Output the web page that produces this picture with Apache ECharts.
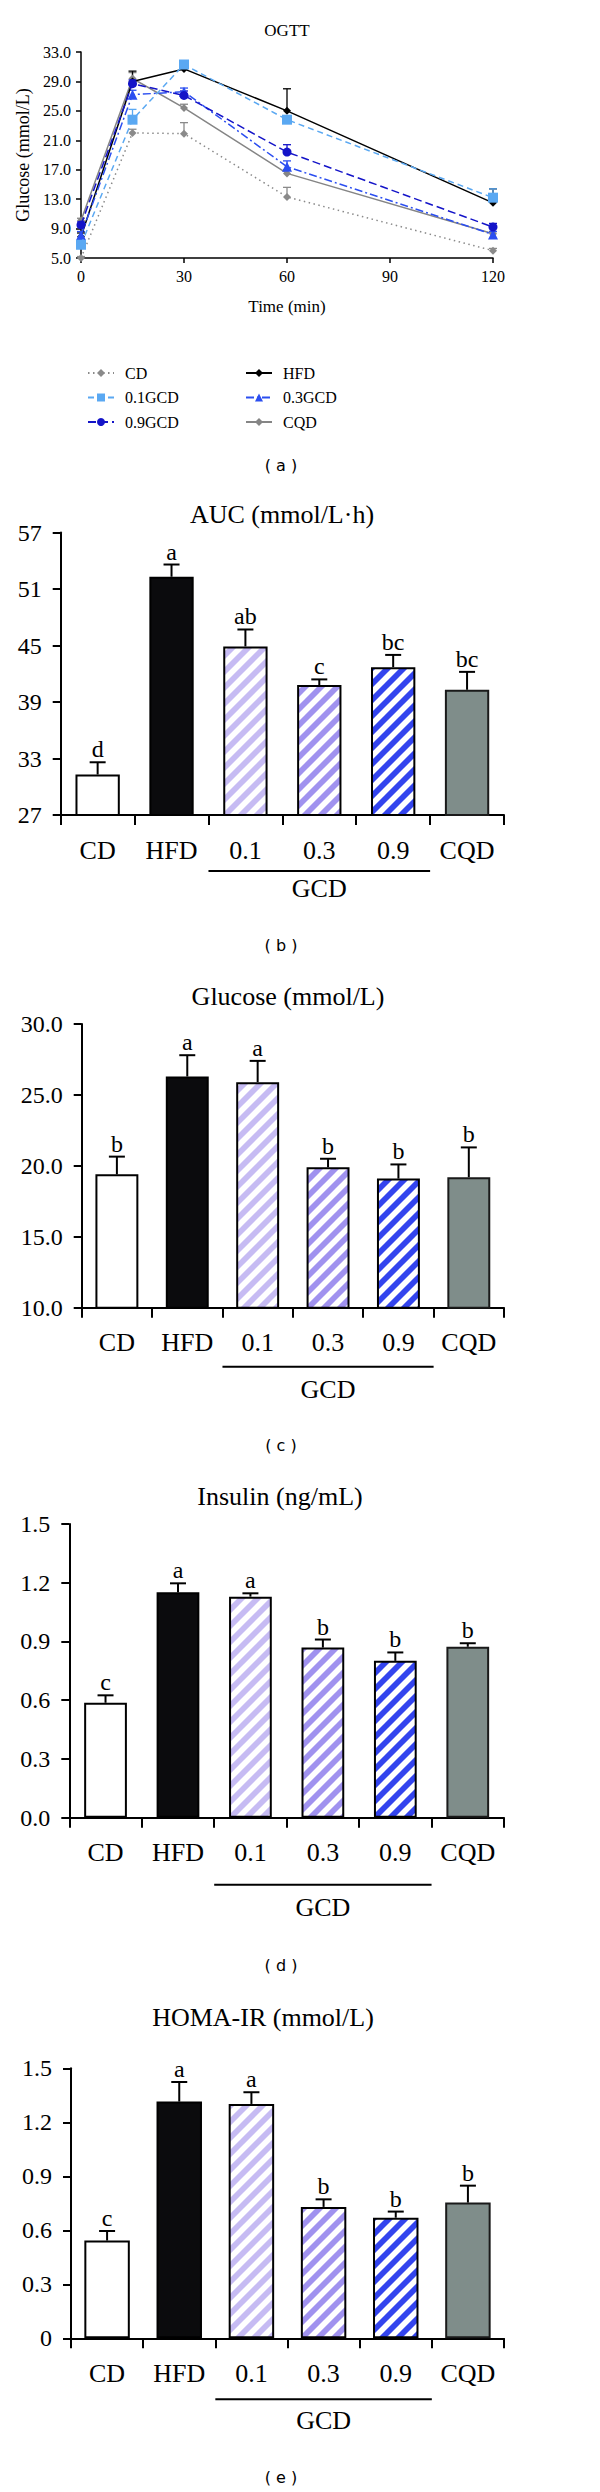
<!DOCTYPE html>
<html><head><meta charset="utf-8">
<script src="https://cdn.jsdelivr.net/npm/echarts@6/dist/echarts.min.js"></script>
<style>html,body{margin:0;padding:0;background:#fff}#c{width:600px;height:2492px}</style>
</head><body><div id="c"></div><script>
const SERIF = '"Liberation Serif","Times New Roman",serif';
const SANS = '"DejaVu Sans",sans-serif';

// ---------- OGTT (a) ----------
const ogttTimes = [0, 15, 30, 60, 120];
const ogttXTicks = [0, 30, 60, 90, 120];
const ogttYTicks = [5, 9, 13, 17, 21, 25, 29, 33];
const ogttCD = [5.0, 22.0, 21.9, 13.3, 6.0];
const ogttCD_se = [0.2, 0.5, 1.5, 1.3, 0.3];
const ogttHFD = [7.9, 29.0, 30.7, 25.0, 12.5];
const ogttHFD_se = [0.5, 1.4, 1.0, 3.0, 1.9];
const ogtt01 = [6.8, 23.8, 31.3, 23.8, 13.2];
const ogtt01_se = [0.4, 1.4, 0.4, 0.5, 1.2];
const ogtt03 = [8.1, 27.2, 27.6, 17.4, 8.2];
const ogtt03_se = [0.5, 0.6, 0.5, 0.8, 0.4];
const ogtt09 = [9.5, 28.7, 27.1, 19.4, 9.2];
const ogtt09_se = [0.4, 0.5, 0.6, 1.0, 0.5];
const ogttCQD = [10.1, 29.4, 25.4, 16.5, 8.3];
const ogttCQD_se = [0.3, 0.8, 0.5, 0.5, 0.3];

// ---------- bar panels (b)-(e) ----------
const groups = ['CD', 'HFD', '0.1', '0.3', '0.9', 'CQD'];
const aucMean = [31.3, 52.3, 44.9, 40.8, 42.7, 40.3];
const aucSE = [1.3, 1.3, 1.8, 0.6, 1.3, 1.9];
const aucLetters = ['d', 'a', 'ab', 'c', 'bc', 'bc'];
const aucTicks = [27, 33, 39, 45, 51, 57];

const gluMean = [19.4, 26.3, 25.9, 19.9, 19.1, 19.2];
const gluSE = [1.25, 1.5, 1.5, 0.6, 1.0, 2.1];
const gluLetters = ['b', 'a', 'a', 'b', 'b', 'b'];
const gluTicks = [10, 15, 20, 25, 30];

const insMean = [0.587, 1.151, 1.129, 0.869, 0.801, 0.873];
const insSE = [0.038, 0.046, 0.017, 0.041, 0.043, 0.018];
const insLetters = ['c', 'a', 'a', 'b', 'b', 'b'];
const insTicks = [0, 0.3, 0.6, 0.9, 1.2, 1.5];

const homaMean = [0.543, 1.315, 1.302, 0.730, 0.670, 0.754];
const homaSE = [0.053, 0.109, 0.065, 0.042, 0.034, 0.094];
const homaLetters = ['c', 'a', 'a', 'b', 'b', 'b'];
const homaTicks = [0, 0.3, 0.6, 0.9, 1.2, 1.5];

// ---------- styles ----------
function stripe(col) {
  const T = 16, c = document.createElement('canvas');
  c.width = T; c.height = T;
  const g = c.getContext('2d');
  g.fillStyle = '#fff'; g.fillRect(0, 0, T, T);
  g.strokeStyle = col; g.lineWidth = T * 0.3536; g.lineCap = 'square';
  g.beginPath();
  g.moveTo(-2, T + 2); g.lineTo(T + 2, -2);
  g.moveTo(-T / 2 - 2, T / 2 + 2); g.lineTo(T / 2 + 2, -T / 2 - 2);
  g.moveTo(T / 2 - 2, 1.5 * T + 2); g.lineTo(1.5 * T + 2, T / 2 - 2);
  g.stroke();
  return { image: c, repeat: 'repeat' };
}
const barStyles = [
  { color: '#ffffff', borderColor: '#000', borderWidth: 2 },
  { color: '#0b0b0d', borderColor: '#000', borderWidth: 2 },
  { color: stripe('#c6bbf3'), borderColor: '#000', borderWidth: 2 },
  { color: stripe('#a092ef'), borderColor: '#000', borderWidth: 2 },
  { color: stripe('#3344ee'), borderColor: '#000', borderWidth: 2 },
  { color: '#7f8d8a', borderColor: '#1a1a1a', borderWidth: 2 }
];
const ogttStyles = {
  'CD':     { color: '#8a8a8a', type: [1.5, 3.5], symbol: 'diamond', size: 8 },
  'HFD':    { color: '#000000', type: 'solid', symbol: 'diamond', size: 8 },
  '0.1GCD': { color: '#5aa8f2', type: [6, 4], symbol: 'rect', size: 10 },
  '0.3GCD': { color: '#2b4ef0', type: [8, 3, 2, 3], symbol: 'triangle', size: 10 },
  '0.9GCD': { color: '#1414c8', type: [8, 4], symbol: 'circle', size: 9 },
  'CQD':    { color: '#858585', type: 'solid', symbol: 'diamond', size: 8 }
};

const chart = echarts.init(document.getElementById('c'), null, { renderer: 'svg', width: 600, height: 2492 });

const panels = [
  { mean: aucMean, se: aucSE, letters: aucLetters, ticks: aucTicks, fmt: v => String(v),
    grid: { left: 60.7, top: 532.5, width: 443.3, height: 282.5 }, barWidth: '60%',
    title: 'AUC (mmol/L·h)', titleX: 282, titleY: 514, tag: '( b )', tagY: 945, lineDy: 56, gcdDy: 73 },
  { mean: gluMean, se: gluSE, letters: gluLetters, ticks: gluTicks, fmt: v => v.toFixed(1),
    grid: { left: 81.7, top: 1024, width: 422.3, height: 283.7 }, barWidth: '61%',
    title: 'Glucose (mmol/L)', titleX: 288, titleY: 996, tag: '( c )', tagY: 1445, lineDy: 59, gcdDy: 82 },
  { mean: insMean, se: insSE, letters: insLetters, ticks: insTicks, fmt: v => v.toFixed(1),
    grid: { left: 69.3, top: 1524, width: 434.7, height: 293.7 }, barWidth: '59%',
    title: 'Insulin (ng/mL)', titleX: 280, titleY: 1496, tag: '( d )', tagY: 1965, lineDy: 67, gcdDy: 90 },
  { mean: homaMean, se: homaSE, letters: homaLetters, ticks: homaTicks, fmt: v => (v === 0 ? '0' : v.toFixed(1)),
    grid: { left: 71, top: 2068.3, width: 433, height: 270 }, barWidth: '63%',
    title: 'HOMA-IR (mmol/L)', titleX: 263, titleY: 2017, tag: '( e )', tagY: 2477, lineDy: 61, gcdDy: 82 }
];

const grids = [{ left: 81, top: 52, width: 412, height: 206 }];
const xAxes = [{
  type: 'value', gridIndex: 0, min: 0, max: 120, interval: 30,
  name: 'Time (min)', nameLocation: 'middle', nameGap: 40,
  nameTextStyle: { fontFamily: SERIF, fontSize: 17, color: '#000' },
  axisLine: { show: true, lineStyle: { color: '#000', width: 1.5 } },
  axisTick: { show: true, length: 5, lineStyle: { color: '#000', width: 1.5 }, customValues: ogttXTicks },
  axisLabel: { fontFamily: SERIF, fontSize: 16, color: '#000', margin: 10, customValues: ogttXTicks },
  splitLine: { show: false }
}];
const yAxes = [{
  type: 'value', gridIndex: 0, min: 5, max: 33,
  name: 'Glucose (mmol/L)', nameLocation: 'middle', nameGap: 46,
  nameTextStyle: { fontFamily: SERIF, fontSize: 18, color: '#000' },
  axisLine: { show: true, lineStyle: { color: '#000', width: 1.5 } },
  axisTick: { show: true, length: 5, lineStyle: { color: '#000', width: 1.5 }, customValues: ogttYTicks },
  axisLabel: { fontFamily: SERIF, fontSize: 16, color: '#000', margin: 10, customValues: ogttYTicks,
    formatter: v => v.toFixed(1) },
  splitLine: { show: false }
}];

function errRenderer(color, capHalf, lw, letters) {
  return function (params, api) {
    const p0 = api.coord([api.value(0), api.value(1)]);
    const p1 = api.coord([api.value(0), api.value(2)]);
    const st = { stroke: color, lineWidth: lw };
    const ch = [
      { type: 'line', shape: { x1: p0[0], y1: p0[1], x2: p1[0], y2: p1[1] }, style: st },
      { type: 'line', shape: { x1: p1[0] - capHalf, y1: p1[1], x2: p1[0] + capHalf, y2: p1[1] }, style: st }
    ];
    if (letters) {
      ch.push({ type: 'text', x: p1[0], y: p1[1] - 1,
        style: { text: letters[params.dataIndex], font: '24px ' + SERIF, fill: '#000',
          textAlign: 'center', textVerticalAlign: 'bottom' } });
    }
    return { type: 'group', children: ch };
  };
}

const series = [];
const ogttOrder = [
  ['CD', ogttCD, ogttCD_se], ['CQD', ogttCQD, ogttCQD_se], ['HFD', ogttHFD, ogttHFD_se],
  ['0.3GCD', ogtt03, ogtt03_se], ['0.9GCD', ogtt09, ogtt09_se], ['0.1GCD', ogtt01, ogtt01_se]
];
ogttOrder.forEach(([name, vals, se], k) => {
  const s = ogttStyles[name];
  series.push({
    type: 'line', name: name, xAxisIndex: 0, yAxisIndex: 0, z: 3 + k,
    data: ogttTimes.map((t, i) => [t, vals[i]]),
    symbol: s.symbol, symbolSize: s.size, showSymbol: true,
    itemStyle: { color: s.color },
    lineStyle: { color: s.color, width: 1.5, type: s.type },
    animation: false
  });
  series.push({
    type: 'custom', xAxisIndex: 0, yAxisIndex: 0, z: 2 + k,
    renderItem: errRenderer(s.color, 4, 1.3, null),
    data: ogttTimes.map((t, i) => [t, vals[i], vals[i] + se[i]]), silent: true
  });
});

panels.forEach((p, i) => {
  const ax = i + 1;
  grids.push(p.grid);
  xAxes.push({
    type: 'category', gridIndex: ax, data: groups,
    axisLine: { show: true, lineStyle: { color: '#000', width: 2 } },
    axisTick: { show: true, length: 10, alignWithLabel: false, interval: 0, lineStyle: { color: '#000', width: 2 } },
    axisLabel: { fontFamily: SERIF, fontSize: 26, color: '#000', margin: 22, interval: 0 },
    splitLine: { show: false }
  });
  yAxes.push({
    type: 'value', gridIndex: ax, min: p.ticks[0], max: p.ticks[p.ticks.length - 1],
    axisLine: { show: true, lineStyle: { color: '#000', width: 2 } },
    axisTick: { show: true, length: 8, lineStyle: { color: '#000', width: 2 }, customValues: p.ticks },
    axisLabel: { fontFamily: SERIF, fontSize: 24, color: '#000', margin: 19, customValues: p.ticks, formatter: p.fmt },
    splitLine: { show: false }
  });
  series.push({
    type: 'bar', xAxisIndex: ax, yAxisIndex: ax, barWidth: p.barWidth, animation: false,
    data: p.mean.map((v, k) => ({ value: v, itemStyle: barStyles[k] }))
  });
  series.push({
    type: 'custom', xAxisIndex: ax, yAxisIndex: ax, z: 5, silent: true,
    renderItem: errRenderer('#000', 8, 2, p.letters),
    data: p.mean.map((v, k) => [k, v, v + p.se[k]])
  });
});

const legendText = { fontFamily: SERIF, fontSize: 16, color: '#000', padding: [0, 0, 0, 6] };
const option = {
  animation: false,
  backgroundColor: '#fff',
  grid: grids, xAxis: xAxes, yAxis: yAxes, series: series,
  legend: [
    { data: ['CD', '0.1GCD', '0.9GCD'], orient: 'vertical', left: 82, top: 360, itemWidth: 26, itemHeight: 10,
      itemGap: 8.5, textStyle: legendText, selectedMode: false },
    { data: ['HFD', '0.3GCD', 'CQD'], orient: 'vertical', left: 240, top: 360, itemWidth: 26, itemHeight: 10,
      itemGap: 8.5, textStyle: legendText, selectedMode: false }
  ]
};
chart.setOption(option);

// annotation texts and GCD brackets
const gfx = [
  { type: 'text', x: 287, y: 30, style: { text: 'OGTT', font: '17px ' + SERIF, fill: '#000', textAlign: 'center', textVerticalAlign: 'middle' } },
  { type: 'text', x: 281, y: 465, style: { text: '( a )', font: '16px ' + SANS, fill: '#000', textAlign: 'center', textVerticalAlign: 'middle' } }
];
panels.forEach((p, i) => {
  const ax = i + 1;
  const c01 = chart.convertToPixel({ xAxisIndex: ax }, 2);
  const c03 = chart.convertToPixel({ xAxisIndex: ax }, 3);
  const c09 = chart.convertToPixel({ xAxisIndex: ax }, 4);
  const bw = c03 - c01;
  const axisY = chart.convertToPixel({ yAxisIndex: ax }, p.ticks[0]);
  gfx.push({ type: 'text', x: p.titleX, y: p.titleY, style: { text: p.title, font: '26px ' + SERIF, fill: '#000', textAlign: 'center', textVerticalAlign: 'middle' } });
  gfx.push({ type: 'line', shape: { x1: c01 - bw / 2, y1: axisY + p.lineDy, x2: c09 + bw / 2, y2: axisY + p.lineDy }, style: { stroke: '#000', lineWidth: 2 } });
  gfx.push({ type: 'text', x: c03, y: axisY + p.gcdDy, style: { text: 'GCD', font: '26px ' + SERIF, fill: '#000', textAlign: 'center', textVerticalAlign: 'middle' } });
  gfx.push({ type: 'text', x: 281, y: p.tagY, style: { text: p.tag, font: '16px ' + SANS, fill: '#000', textAlign: 'center', textVerticalAlign: 'middle' } });
});
chart.setOption({ graphic: { elements: gfx } });
</script></body></html>
